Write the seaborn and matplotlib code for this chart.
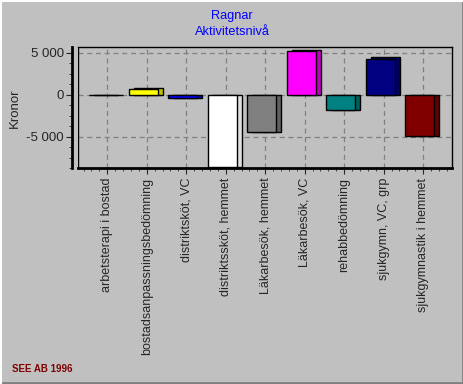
import matplotlib
matplotlib.use("Agg")
import matplotlib.pyplot as plt
import seaborn as sns
import numpy as np
import pandas as pd
from matplotlib.ticker import MultipleLocator, FuncFormatter
from matplotlib.lines import Line2D

categories = ["arbetsterapi i bostad", "bostadsanpassningsbedömning", "distriktsköt, VC",
              "distriktssköt, hemmet", "Läkarbesök, hemmet", "Läkarbesök, VC",
              "rehabbedömning", "sjukgymn, VC, grp", "sjukgymnastik i hemmet"]
values = [-50, 700, -450, -8600, -4500, 5250, -1850, 4300, -4950]
colors = ["#000000", "#FFFF00", "#0000FF", "#FFFFFF", "#808080", "#FF00FF",
          "#008080", "#000080", "#800000"]
side_colors = ["#000000", "#C0C000", "#0000C0", "#E0E0E0", "#606060", "#C000C0",
               "#006060", "#000060", "#600000"]

sns.set_style("white")
plt.rcParams['font.family'] = ['Liberation Sans', 'DejaVu Sans']

bg = "#C0C0C0"
fig = plt.figure(figsize=(4.64, 3.84), dpi=100, facecolor=bg)
ax = fig.add_axes([78/464, 1-168/384, (452-78)/464, (168-47)/384])
ax.set_facecolor(bg)

df = pd.DataFrame({"cat": categories, "val": values})
xs = np.arange(len(categories))
w = 0.73
shift = -0.09   # front face sits a little left of the tick
depth = 0.13    # 3D depth to the right
lift = 150      # 3D depth upward for positive bars (data units)
side_vals = [v + lift if v > 0 else v for v in values]
# side (depth) faces
ax.bar(xs + shift + depth, side_vals, width=w, color=side_colors,
       edgecolor="black", linewidth=1.0, zorder=2)
n_side = len(ax.patches)
sns.barplot(data=df, x="cat", y="val", hue="cat", palette=colors, legend=False,
            width=w, edgecolor="black", linewidth=1.0, saturation=1, ax=ax)
for p in ax.patches[n_side:]:
    p.set_zorder(3)
    p.set_x(p.get_x() + shift)

ax.set_xlim(-0.74, 8.73)
ax.set_ylim(-8750, 5700)
ax.yaxis.set_major_locator(MultipleLocator(5000))
ax.yaxis.set_minor_locator(MultipleLocator(1250))
ax.xaxis.set_minor_locator(MultipleLocator(0.2))
ax.yaxis.set_major_formatter(FuncFormatter(lambda v, p: f"{int(v):,}".replace(",", " ")))
ax.grid(True, which="major", color="#808080", linestyle=(0, (4, 3)), linewidth=0.9, zorder=1)
ax.set_axisbelow(True)
ax.set_xticks(xs)
ax.set_xticklabels(categories, rotation=90, fontsize=9)
ax.tick_params(axis="y", labelsize=9.5, length=4, width=0.8, direction="out", pad=2)
ax.tick_params(axis="x", length=4, width=0.8, direction="out", pad=3)
ax.tick_params(which="minor", length=2, width=0.6, direction="out")
ax.tick_params(axis="x", which="both", bottom=True)
ax.tick_params(axis="y", which="both", left=True)
ax.set_xlabel("")
ax.set_ylabel("Kronor", fontsize=9.5)
ax.yaxis.set_label_coords(-(78 - 21) / (452 - 78), (168 - 108) / (168 - 47))

for s in ["top", "right"]:
    ax.spines[s].set_linewidth(1.0)
    ax.spines[s].set_color("black")
for s in ["left", "bottom"]:
    ax.spines[s].set_linewidth(2.0)
    ax.spines[s].set_color("black")
ax.spines["left"].set_position(("outward", 4))

# inner 3D wall line
ax.axvline(-0.74, color="black", lw=1.0, zorder=4)

fig.text(0.5, 1-16/384, "Ragnar", color="#0000FF", ha="center", va="center", fontsize=9.2)
fig.text(0.5, 1-32/384, "Aktivitetsnivå", color="#0000FF", ha="center", va="center", fontsize=9.2)
fig.text(12/464, 1-369/384, "SEE AB 1996", color="#800000", ha="left", va="center",
         fontsize=7, fontweight="bold")

# window border (3D style)
fig.add_artist(Line2D([0, 1], [0.002, 0.002], color="#808080", lw=2))
fig.add_artist(Line2D([0.998, 0.998], [0, 1], color="#808080", lw=2))
fig.add_artist(Line2D([0, 1], [0.998, 0.998], color="#FFFFFF", lw=1.5))
fig.add_artist(Line2D([0.002, 0.002], [0, 1], color="#FFFFFF", lw=1.5))

fig.savefig("out.png", dpi=100, facecolor=bg)
